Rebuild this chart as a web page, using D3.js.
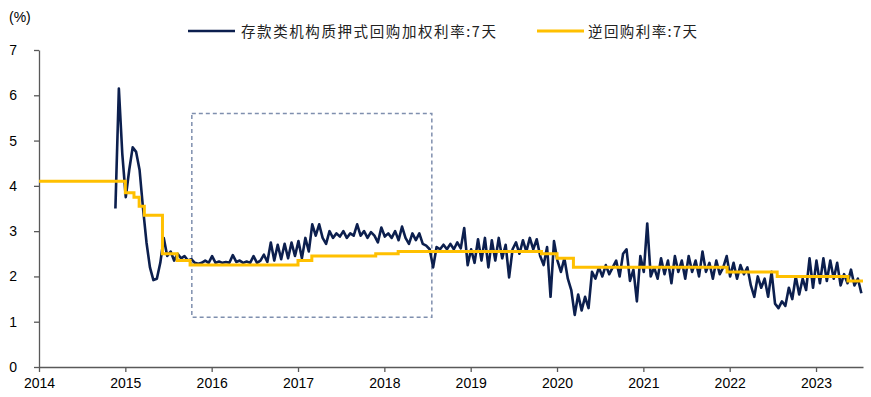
<!DOCTYPE html>
<html>
<head>
<meta charset="utf-8">
<script src="https://cdn.jsdelivr.net/npm/d3@7"></script>
<style>
  body { margin: 0; background: #fff; }
  svg { display: block; font-family: "Liberation Sans", Arial, sans-serif; }
</style>
</head>
<body>
<div id="chart"></div>
<script>
// DR007: samples every 0.04 yr starting late 2014
const drStart = 2014.885;
const drStep = 0.04;
const drValues = [
  3.5, 6.15, 4.7, 3.75, 4.35, 4.85, 4.75, 4.35, 3.5, 2.75,
  2.2, 1.92, 1.95, 2.3, 2.85, 2.45, 2.55, 2.35, 2.5, 2.4,
  2.45, 2.35, 2.38, 2.3, 2.28, 2.3, 2.35, 2.3, 2.45, 2.3,
  2.33, 2.3, 2.32, 2.3, 2.47, 2.32, 2.35, 2.3, 2.33, 2.3,
  2.45, 2.3, 2.35, 2.48, 2.32, 2.75, 2.35, 2.7, 2.38, 2.72,
  2.4, 2.75, 2.45, 2.78, 2.4, 2.85, 2.55, 3.15, 2.9, 3.15,
  2.85, 2.72, 3.0, 2.85, 2.95, 2.88, 3.0, 2.85, 2.95, 2.9,
  3.15, 2.9, 3.0, 2.85, 2.98, 2.9, 2.75, 3.08, 2.88, 2.95,
  2.85, 3.0, 2.8, 3.1, 2.85, 2.72, 2.95, 2.8, 2.95, 2.72,
  2.68, 2.6, 2.2, 2.65, 2.6, 2.7, 2.6, 2.72, 2.6, 2.75,
  2.62, 3.07, 2.25, 2.6, 2.3, 2.82, 2.35, 2.85, 2.2, 2.8,
  2.35, 2.85, 2.4, 2.7, 1.98, 2.6, 2.75, 2.5, 2.8, 2.55,
  2.85, 2.6, 2.82, 2.45, 2.25, 2.65, 1.55, 2.78, 2.35, 2.1,
  2.4, 1.95, 1.7, 1.15, 1.6, 1.25, 1.55, 1.3, 2.1, 1.95,
  2.2, 2.0, 2.25, 2.05, 2.2, 2.35, 2.0, 2.5, 2.6, 1.9,
  2.15, 1.45, 2.45, 2.1, 3.17, 2.0, 2.2, 1.95, 2.4, 2.05,
  2.35, 1.85, 2.45, 2.1, 2.35, 1.95, 2.45, 2.1, 2.35, 2.0,
  2.55, 2.1, 2.3, 1.95, 2.35, 2.05, 2.2, 2.45, 2.0, 2.3,
  1.95, 2.25, 2.05, 2.2, 1.8, 1.55, 2.0, 1.75, 1.95, 1.55,
  2.1, 1.4, 1.3, 1.45, 1.35, 1.75, 1.5, 2.0, 1.6, 1.95,
  1.7, 2.4, 1.75, 2.35, 1.85, 2.4, 1.9, 2.35, 1.95, 2.3,
  1.8, 2.05, 1.85, 2.15, 1.8, 1.95, 1.63
];

// 7-day reverse repo policy rate: change dates and new level
const repoYears = [2014.0, 2015.0, 2015.1, 2015.16, 2015.22, 2015.43, 2015.6, 2015.75,
  2017.0, 2017.16, 2017.9, 2018.16, 2019.82, 2020.0, 2020.19, 2021.97, 2022.55, 2023.37, 2023.544];
const repoRates = [4.10, 3.85, 3.75, 3.55, 3.35, 2.5, 2.35, 2.25,
  2.35, 2.45, 2.5, 2.55, 2.5, 2.4, 2.2, 2.1, 2.0, 1.9, 1.9];

const yearTicks = [2014, 2015, 2016, 2017, 2018, 2019, 2020, 2021, 2022, 2023];
const rateTicks = [0, 1, 2, 3, 4, 5, 6, 7];
const seriesNames = ["存款类机构质押式回购加权利率:7天", "逆回购利率:7天"];
const highlightYears = [2015.77, 2018.55];
const highlightRates = [1.1, 5.6];

const width = 871, height = 397;
const navy = "#0c1f4e", gold = "#ffc000";

const dr = drValues.map((v, i) => ({ year: drStart + i * drStep, value: v }));
const repo = repoYears.map((y, i) => ({ year: y, value: repoRates[i] }));

const x = d3.scaleLinear().domain([2014, 2023.544]).range([39, 863]);
const y = d3.scaleLinear().domain([0, 7]).range([367, 50]);

const svg = d3.select("#chart").append("svg")
  .attr("width", width)
  .attr("height", height);

// axes
const xAxis = svg.append("g")
  .attr("transform", `translate(0,${y(0)})`)
  .call(d3.axisBottom(x).tickValues(yearTicks).tickFormat(d3.format("d")).tickSize(5).tickSizeOuter(0).tickPadding(6));
const yAxis = svg.append("g")
  .attr("transform", `translate(${x(2014)},0)`)
  .call(d3.axisLeft(y).tickValues(rateTicks).tickFormat(d3.format("d")).tickSize(5).tickSizeOuter(0).tickPadding(17));

[xAxis, yAxis].forEach(g => {
  g.selectAll("path, line").attr("stroke", "#595959").attr("stroke-width", 1.3);
  g.selectAll("text").attr("fill", "#000").style("font-size", "14px");
});

svg.append("text")
  .attr("x", 9).attr("y", 22)
  .style("font-size", "14px")
  .text("(%)");

// highlight box
svg.append("rect")
  .attr("x", x(highlightYears[0]))
  .attr("y", y(highlightRates[1]))
  .attr("width", x(highlightYears[1]) - x(highlightYears[0]))
  .attr("height", y(highlightRates[0]) - y(highlightRates[1]))
  .attr("fill", "none")
  .attr("stroke", "#7f8fae")
  .attr("stroke-width", 1.5)
  .attr("stroke-dasharray", "4,3");

// lines
const line = d3.line().x(d => x(d.year)).y(d => y(d.value));

svg.append("path")
  .datum(dr)
  .attr("fill", "none")
  .attr("stroke", navy)
  .attr("stroke-width", 2.6)
  .attr("stroke-linejoin", "round")
  .attr("d", line);

svg.append("path")
  .datum(repo)
  .attr("fill", "none")
  .attr("stroke", gold)
  .attr("stroke-width", 3)
  .attr("d", line.curve(d3.curveStepAfter));

// legend
const legend = [
  { name: seriesNames[0], color: navy, w: 2.5, x0: 188, tx: 241, tl: 255 },
  { name: seriesNames[1], color: gold, w: 3, x0: 537, tx: 588, tl: 109 }
];
legend.forEach(l => {
  svg.append("line")
    .attr("x1", l.x0).attr("x2", l.x0 + 47)
    .attr("y1", 31).attr("y2", 31)
    .attr("stroke", l.color).attr("stroke-width", l.w);
  svg.append("text")
    .attr("x", l.tx).attr("y", 36.5)
    .attr("textLength", l.tl)
    .attr("lengthAdjust", "spacing")
    .style("font-family", "'Noto Sans CJK SC', sans-serif")
    .style("font-size", "14.5px")
    .attr("fill", "#222")
    .text(l.name);
});
</script>
</body>
</html>
